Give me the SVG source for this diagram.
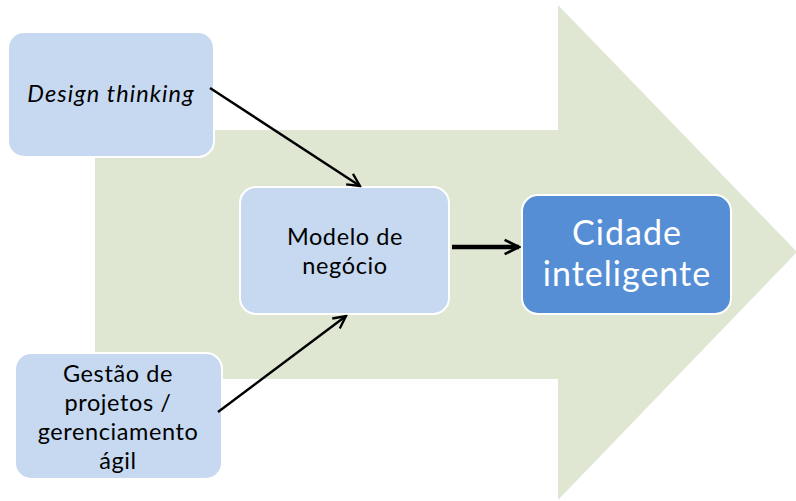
<svg xmlns="http://www.w3.org/2000/svg" width="796" height="501" viewBox="0 0 796 501">
<defs>
<style>
.box{fill:#c6d9f0;stroke:#ffffff;stroke-width:2}
.dark{fill:#558ed5;stroke:#ffffff;stroke-width:2}
.t{font-family:Lato,"Open Sans",sans-serif;font-size:23.5px;letter-spacing:0.6px;fill:#000;text-anchor:middle}
.tw{font-family:Lato,"Open Sans",sans-serif;font-size:34px;letter-spacing:1px;fill:#fff;text-anchor:middle}
.c{stroke:#000;fill:none;stroke-width:2.4}
.cw{stroke:#000;fill:none;stroke-width:4.5}
</style>
<marker id="ah" viewBox="0 0 10 10" refX="9" refY="5" markerWidth="6.5" markerHeight="6.5" orient="auto" markerUnits="strokeWidth">
<path d="M1,1 L9,5 L1,9" fill="none" stroke="#000" stroke-width="1.5"/>
</marker>
<marker id="ah2" viewBox="0 0 10 10" refX="9" refY="5" markerWidth="4" markerHeight="4" orient="auto" markerUnits="strokeWidth">
<path d="M1,1 L9,5 L1,9" fill="none" stroke="#000" stroke-width="1.4"/>
</marker>
</defs>
<rect width="796" height="501" fill="#ffffff"/>
<polygon id="bigArrow" points="95,130 558,130 558,5 797,252 558,500 558,379 95,379" fill="#dfe7d3"/>
<g id="design">
<rect class="box" x="8" y="32" width="206" height="125" rx="16"/>
<text class="t" x="111" y="102" font-style="italic" style="letter-spacing:1.1px">Design thinking</text>
</g>
<g id="modelo">
<rect class="box" x="240" y="187" width="209" height="127" rx="16"/>
<text class="t" x="345" y="245">Modelo de</text>
<text class="t" x="345" y="274">negócio</text>
</g>
<g id="cidade">
<rect class="dark" x="522" y="195" width="209" height="119" rx="16"/>
<text class="tw" x="627" y="245">Cidade</text>
<text class="tw" x="627" y="286">inteligente</text>
</g>
<g id="gestao">
<rect class="box" x="15" y="353" width="207" height="126" rx="16"/>
<text class="t" x="118" y="382">Gestão de</text>
<text class="t" x="118" y="411">projetos /</text>
<text class="t" x="118" y="440">gerenciamento</text>
<text class="t" x="118" y="469">ágil</text>
</g>
<g id="connectors">
<line class="c" x1="210" y1="88" x2="360" y2="186" marker-end="url(#ah)"/>
<line class="c" x1="218" y1="412" x2="346" y2="316" marker-end="url(#ah)"/>
<line class="cw" x1="452" y1="247" x2="519" y2="247" marker-end="url(#ah2)"/>
</g>
</svg>
